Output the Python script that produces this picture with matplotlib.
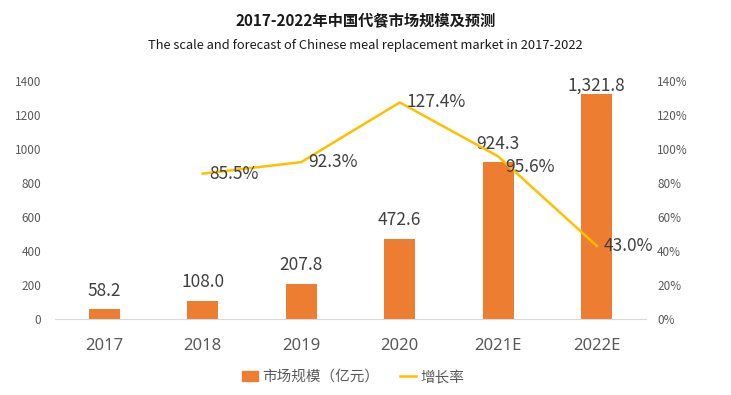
import numpy as np
import matplotlib
matplotlib.use("Agg")
import matplotlib.pyplot as plt
from matplotlib.patches import Patch
from matplotlib.lines import Line2D

plt.rcParams['font.family'] = ['Noto Sans CJK SC', 'DejaVu Sans']

# data
years = ['2017', '2018', '2019', '2020', '2021E', '2022E']
market_size = [58.2, 108.0, 207.8, 472.6, 924.3, 1321.8]
size_labels = ['58.2', '108.0', '207.8', '472.6', '924.3', '1,321.8']
growth_years = ['2018', '2019', '2020', '2021E', '2022E']
growth_rate = [85.5, 92.3, 127.4, 95.6, 43.0]

bar_color = '#ED7D31'
line_color = '#FFC000'
text_color = '#404040'
tick_color = '#595959'

fig = plt.figure(figsize=(7.31, 3.95), dpi=100)
ax = fig.add_axes([55 / 731, 1 - 319 / 395, 591 / 731, 238 / 395])
ax2 = ax.twinx()

x = np.arange(len(years))
ax.bar(x, market_size, width=0.31, color=bar_color, zorder=2)
for xi, v, lab in zip(x, market_size, size_labels):
    # labels sit above the bars but get squeezed under the top of the plot
    ax.text(xi, min(v + 55, 1322), lab, ha='center', va='bottom', fontsize=12.5, color=text_color)

gx = [years.index(y) for y in growth_years]
ax2.plot(gx, growth_rate, color=line_color, lw=1.8, zorder=3)
for xi, v in zip(gx, growth_rate):
    dy = -6 if xi == 4 else 0  # nudge the 2021E label off the bar label
    ax2.text(xi + 0.07, v + dy, f'{v:.1f}%', ha='left', va='center', fontsize=12.5, color=text_color)

ax.set_xlim(-0.5, len(years) - 0.5)
ax.set_ylim(0, 1400)
ax.set_yticks(np.arange(0, 1401, 200))
ax2.set_ylim(0, 140)
ax2.set_yticks(np.arange(0, 141, 20))
ax2.set_yticklabels([f'{v}%' for v in range(0, 141, 20)])

ax.set_xticks(x)
ax.set_xticklabels(years, fontsize=12, color=tick_color, family=['Noto Sans', 'DejaVu Sans'])
ax.tick_params(axis='x', length=0, pad=14)
ax.tick_params(axis='y', length=0, pad=10, labelsize=8.5, labelcolor=tick_color)
ax2.tick_params(axis='y', length=0, pad=8, labelsize=8.5, labelcolor=tick_color)

for a in (ax, ax2):
    for s in a.spines.values():
        s.set_visible(False)
ax.spines['bottom'].set_visible(True)
ax.spines['bottom'].set_color('#D9D9D9')

fig.text(0.5, 1 - 20 / 395, '2017-2022年中国代餐市场规模及预测', ha='center', va='center',
         fontsize=11, fontweight='bold', color='#1a1a1a')
fig.text(0.5, 1 - 46 / 395, 'The scale and forecast of Chinese meal replacement market in 2017-2022',
         ha='center', va='center', fontsize=9.3, color='#1a1a1a')

handles = [Patch(color=bar_color, label='市场规模（亿元）'),
           Line2D([0], [0], color=line_color, lw=1.8, label='增长率')]
fig.legend(handles=handles, loc='center', bbox_to_anchor=(353 / 731, 1 - 377 / 395), ncol=2,
           frameon=False, fontsize=10.5, labelcolor=tick_color, handlelength=1.1,
           handletextpad=0.3, columnspacing=1.4)

fig.savefig('out.png', dpi=100)
